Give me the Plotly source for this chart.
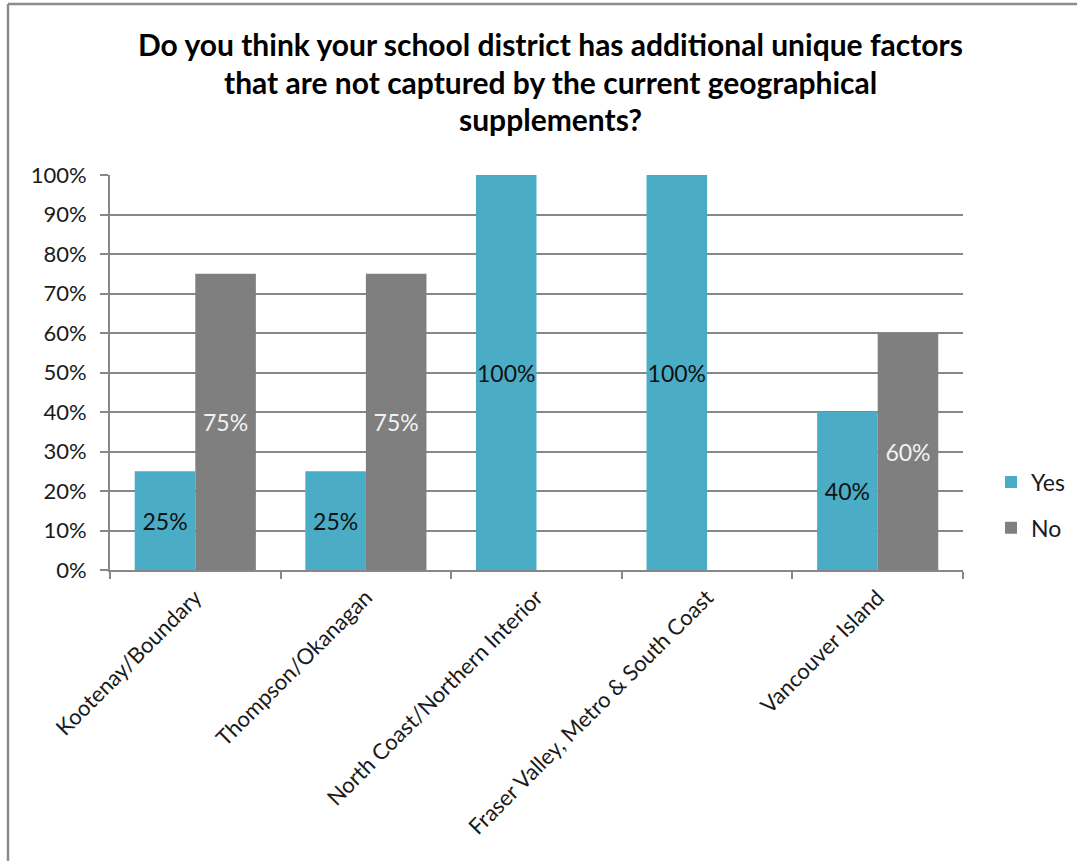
import plotly.graph_objects as go

categories = ["Kootenay/Boundary", "Thompson/Okanagan", "North Coast/Northern Interior",
              "Fraser Valley, Metro & South Coast", "Vancouver Island"]
yes_values = [25, 25, 100, 100, 40]
no_values = [75, 75, 0, 0, 60]
y_tick_values = [0, 10, 20, 30, 40, 50, 60, 70, 80, 90, 100]
y_tick_labels = [f"{v}%" for v in y_tick_values]
title_lines = ["Do you think your school district has additional unique factors",
               "that are not captured by the current geographical",
               "supplements?"]

FONT = "Lato"
YES_COLOR = "#4BACC6"
NO_COLOR = "#7F7F7F"
GRID = "#878787"

fig = go.Figure()
fig.add_trace(go.Bar(
    name="Yes", x=categories, y=yes_values,
    marker=dict(color=YES_COLOR, line=dict(width=0)),
    text=[f"{v}%" if v else "" for v in yes_values],
    textposition="inside", insidetextanchor="middle", constraintext="none",
    textangle=0,
    textfont=dict(family=FONT, size=23, color="#111111"),
    legendgroup="yes",
))
fig.add_trace(go.Bar(
    name="No", x=categories, y=no_values,
    marker=dict(color=NO_COLOR, line=dict(width=0)),
    text=[f"{v}%" if v else "" for v in no_values],
    textposition="inside", insidetextanchor="middle", constraintext="none",
    textangle=0,
    textfont=dict(family=FONT, size=23, color="#F2F2F2"),
    legendgroup="no",
))

W, H = 1077, 861
L, R, T, B = 110, W - 963, 175, H - 570
pw = W - L - R
ph = H - T - B

def px_to_paper_x(px):
    return (px - L) / pw

def px_to_paper_y(py):
    return (H - B - py) / ph

annotations = []
for line, ypx in zip(title_lines, [44, 82, 119]):
    annotations.append(dict(
        text=f"<b>{line}</b>", xref="paper", yref="paper",
        x=px_to_paper_x(550), y=px_to_paper_y(ypx),
        xanchor="center", yanchor="middle", showarrow=False,
        font=dict(family=FONT, size=30, color="#000000"),
    ))

shapes = [
    dict(type="line", xref="paper", yref="paper",
         x0=px_to_paper_x(8), x1=px_to_paper_x(8),
         y0=px_to_paper_y(4), y1=px_to_paper_y(900),
         line=dict(color="#8C8C8C", width=2.5)),
    dict(type="line", xref="paper", yref="paper",
         x0=px_to_paper_x(8), x1=px_to_paper_x(1200),
         y0=px_to_paper_y(4), y1=px_to_paper_y(4),
         line=dict(color="#8C8C8C", width=2.5)),
]

fig.update_layout(
    width=W, height=H,
    margin=dict(l=L, r=R, t=T, b=B, pad=0, autoexpand=False),
    paper_bgcolor="white", plot_bgcolor="white",
    barmode="group", bargap=0.29, bargroupgap=0,
    font=dict(family=FONT, size=22, color="#1a1a1a"),
    annotations=annotations, shapes=shapes,
    legend=dict(
        xref="container", yref="container",
        x=991 / W, y=1 - 505 / H,
        xanchor="left", yanchor="middle",
        font=dict(family=FONT, size=23, color="#1a1a1a"),
        traceorder="grouped", tracegroupgap=13,
        bgcolor="rgba(0,0,0,0)", itemwidth=30,
    ),
    uniformtext=dict(mode=False),
)
fig.update_yaxes(
    range=[0, 100], tickmode="array", tickvals=y_tick_values, ticktext=y_tick_labels,
    showgrid=True, gridcolor=GRID, gridwidth=1.5,
    showline=True, linecolor=GRID, linewidth=2,
    ticks="outside", ticklen=8, tickcolor=GRID, tickwidth=1.5,
    tickfont=dict(family=FONT, size=22, color="#1a1a1a"),
    zeroline=False, ticklabelstandoff=9,
)
fig.update_xaxes(
    showline=True, linecolor=GRID, linewidth=2,
    ticks="outside", ticklen=7, tickcolor=GRID, tickwidth=1.5,
    tickson="boundaries", tickangle=-45,
    tickfont=dict(family=FONT, size=22, color="#1a1a1a"),
    ticklabelstandoff=4,
)

fig.write_html(
    "out.html",
    config={"displayModeBar": False},
    post_script="document.body.style.margin='0';document.body.style.overflow='hidden';",
)
